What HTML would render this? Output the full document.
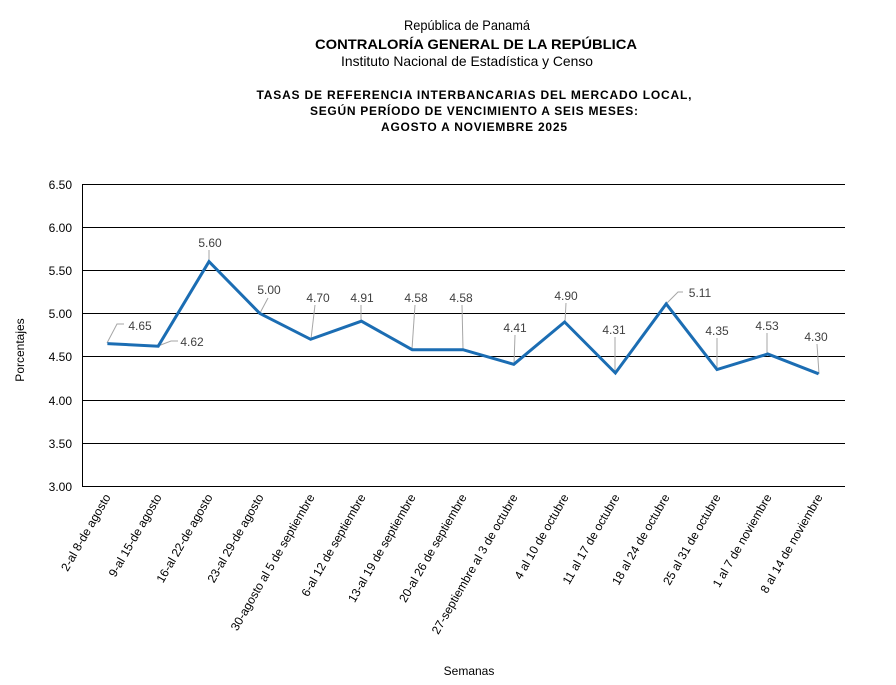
<!DOCTYPE html>
<html><head><meta charset="utf-8"><style>
body{margin:0;background:#fff}
svg{display:block;font-family:"Liberation Sans",Arial,sans-serif}
</style></head><body>
<svg width="896" height="685" xmlns="http://www.w3.org/2000/svg">
<g text-anchor="middle" fill="#000">
<text x="467" y="30" font-size="14" textLength="126" lengthAdjust="spacingAndGlyphs">República de Panamá</text>
<text x="476" y="49" font-size="14" font-weight="bold" textLength="322" lengthAdjust="spacingAndGlyphs">CONTRALORÍA GENERAL DE LA REPÚBLICA</text>
<text x="467" y="66" font-size="14" textLength="252" lengthAdjust="spacingAndGlyphs">Instituto Nacional de Estadística y Censo</text>
<text x="474" y="99" font-size="12" font-weight="bold" textLength="435" lengthAdjust="spacing">TASAS DE REFERENCIA INTERBANCARIAS DEL MERCADO LOCAL,</text>
<text x="474" y="115" font-size="12" font-weight="bold" textLength="328" lengthAdjust="spacing">SEGÚN PERÍODO DE VENCIMIENTO A SEIS MESES:</text>
<text x="474" y="131" font-size="12" font-weight="bold" textLength="186" lengthAdjust="spacing">AGOSTO A NOVIEMBRE 2025</text>
</g>
<g stroke="#000" stroke-width="1">
<line x1="82" y1="184.5" x2="845" y2="184.5"/>
<line x1="82" y1="227.5" x2="845" y2="227.5"/>
<line x1="82" y1="270.5" x2="845" y2="270.5"/>
<line x1="82" y1="313.5" x2="845" y2="313.5"/>
<line x1="82" y1="356.5" x2="845" y2="356.5"/>
<line x1="82" y1="400.5" x2="845" y2="400.5"/>
<line x1="82" y1="443.5" x2="845" y2="443.5"/>
<line x1="82" y1="486.5" x2="845" y2="486.5"/>
<line x1="82.5" y1="184" x2="82.5" y2="487"/>
</g>
<g font-size="12" text-anchor="end" fill="#000">
<text x="72" y="189">6.50</text><text x="72" y="232">6.00</text><text x="72" y="275">5.50</text>
<text x="72" y="318">5.00</text><text x="72" y="361">4.50</text><text x="72" y="405">4.00</text>
<text x="72" y="448">3.50</text><text x="72" y="491">3.00</text>
</g>
<text transform="translate(24,350) rotate(-90)" font-size="12" text-anchor="middle">Porcentajes</text>
<text x="469" y="675" font-size="12" text-anchor="middle">Semanas</text>
<g stroke="#a6a6a6" stroke-width="1" fill="none">
<polyline points="107,343 117,324 124,324"/>
<polyline points="158,346 171,341 178,341"/>
<line x1="209" y1="261" x2="209" y2="250"/>
<line x1="260" y1="313" x2="268" y2="298"/>
<line x1="311" y1="339" x2="315" y2="305"/>
<line x1="361" y1="321" x2="361" y2="305"/>
<line x1="412" y1="349" x2="415" y2="305"/>
<line x1="463" y1="349" x2="462" y2="305"/>
<line x1="514" y1="364" x2="515" y2="335"/>
<line x1="565" y1="322" x2="566" y2="303"/>
<line x1="615" y1="373" x2="615" y2="337"/>
<polyline points="666,304 678,292 683,292"/>
<line x1="717" y1="369" x2="717" y2="338"/>
<line x1="767" y1="354" x2="767" y2="333"/>
<line x1="819" y1="374" x2="817" y2="344"/>
</g>
<polyline fill="none" stroke="#1b6db3" stroke-width="3" stroke-linejoin="miter"
points="107.4,343.6 158.2,346.2 209,261.6 259.8,313.4 310.6,339.3 361.4,321.2 412.2,349.7 463,349.7 513.8,364.3 564.6,322 615.4,373 666.2,303.9 717,369.5 767.8,354 818.6,373.8"/>
<g font-size="12" fill="#404040" text-anchor="middle">
<text x="140" y="330">4.65</text>
<text x="192" y="346">4.62</text>
<text x="210" y="247">5.60</text>
<text x="269" y="294">5.00</text>
<text x="318" y="302">4.70</text>
<text x="362" y="302">4.91</text>
<text x="416" y="302">4.58</text>
<text x="461" y="302">4.58</text>
<text x="515" y="332">4.41</text>
<text x="566" y="300">4.90</text>
<text x="614" y="334">4.31</text>
<text x="700" y="297">5.11</text>
<text x="717" y="335">4.35</text>
<text x="767" y="330">4.53</text>
<text x="816" y="341">4.30</text>
</g>
<g font-size="12" text-anchor="end" fill="#000">
<text transform="translate(111,497) rotate(-60)">2-al 8-de agosto</text>
<text transform="translate(162,497) rotate(-60)">9-al 15-de agosto</text>
<text transform="translate(213,497) rotate(-60)">16-al 22-de agosto</text>
<text transform="translate(264,497) rotate(-60)">23-al 29-de agosto</text>
<text transform="translate(315,497) rotate(-60)">30-agosto al 5 de septiembre</text>
<text transform="translate(366,497) rotate(-60)">6-al 12 de septiembre</text>
<text transform="translate(416,497) rotate(-60)">13-al 19 de septiembre</text>
<text transform="translate(467,497) rotate(-60)">20-al 26 de septiembre</text>
<text transform="translate(518,497) rotate(-60)">27-septiembre al 3 de octubre</text>
<text transform="translate(569,497) rotate(-60)">4 al 10 de octubre</text>
<text transform="translate(620,497) rotate(-60)">11 al 17 de octubre</text>
<text transform="translate(670,497) rotate(-60)">18 al 24 de octubre</text>
<text transform="translate(721,497) rotate(-60)">25 al 31 de octubre</text>
<text transform="translate(772,497) rotate(-60)">1 al 7 de noviembre</text>
<text transform="translate(823,497) rotate(-60)">8 al 14 de noviembre</text>
</g>
</svg>
</body></html>
